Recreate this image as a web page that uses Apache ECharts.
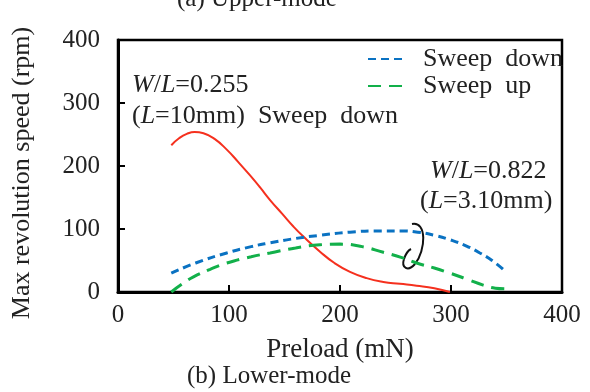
<!DOCTYPE html>
<html>
<head>
<meta charset="utf-8">
<script src="https://cdn.jsdelivr.net/npm/echarts@6/dist/echarts.min.js"></script>
<style>
  html, body { margin: 0; padding: 0; background: #fff; }
  #chart { width: 590px; height: 392px; }
</style>
</head>
<body>
<div id="chart"></div>
<script>
  // W/L=0.255 (L=10mm), sweep down
  const redX = [48, 55, 62, 69, 77, 87, 98, 108, 119, 128, 137, 148, 158, 167, 182, 195, 209, 224, 239, 254, 269, 285, 299]
  const redY = [233, 244, 251, 254, 252, 243, 226, 207, 185, 166, 146, 124, 104, 88, 64, 46, 32, 22, 16, 13, 10, 6, 0]
  // W/L=0.822 (L=3.10mm), sweep down
  const blueX = [48, 70, 98, 120, 137, 160, 182, 209, 235, 255, 270, 285, 299, 314, 326, 337, 347]
  const blueY = [30, 46, 62, 72, 78, 85, 90, 95, 97, 97, 95, 90, 83, 73, 62, 50, 36]
  // W/L=0.822 (L=3.10mm), sweep up
  const greenX = [48, 58, 68, 83, 98, 120, 137, 160, 182, 200, 220, 239, 255, 269, 285, 299, 315, 329, 340, 350]
  const greenY = [0, 13, 24, 36, 46, 56, 62, 70, 75, 76, 72, 63, 55, 46, 38, 30, 20, 11, 6, 5]

  const xTicks = [0, 100, 200, 300, 400]
  const yTicks = [0, 100, 200, 300, 400]

  const FONT = 'Liberation Serif, Times New Roman, serif'
  const TXT = '#222'

  function pairs(xs, ys) {
    return xs.map((x, i) => [x, ys[i]])
  }

  const italic = { i: { fontStyle: 'italic', fontFamily: FONT, fontSize: 26, fill: TXT } }

  const chart = echarts.init(document.getElementById('chart'))

  chart.setOption({
    animation: false,
    backgroundColor: '#fff',
    grid: {
      left: 118,
      right: 28,
      top: 40,
      bottom: 100,
      show: true,
      borderColor: '#000',
      borderWidth: 2.5
    },
    legend: {
      data: ['Sweep  down', 'Sweep  up'],
      orient: 'vertical',
      left: 362,
      top: 41,
      itemWidth: 38,
      itemHeight: 10,
      itemGap: 1,
      itemStyle: { color: 'rgba(0,0,0,0)', opacity: 0, borderWidth: 0 },
      textStyle: {
        fontFamily: FONT,
        fontSize: 26,
        color: TXT,
        padding: [0, 0, 0, 12]
      }
    },
    xAxis: {
      type: 'value',
      min: xTicks[0],
      max: xTicks[xTicks.length - 1],
      interval: 100,
      name: 'Preload (mN)',
      nameLocation: 'middle',
      nameGap: 44,
      nameTextStyle: { fontFamily: FONT, fontSize: 27, color: TXT },
      axisLine: { show: true, lineStyle: { color: '#000', width: 3 } },
      axisTick: { show: true, inside: true, length: 7, lineStyle: { color: '#000', width: 2 } },
      axisLabel: { fontFamily: FONT, fontSize: 25, color: TXT, margin: 11 },
      splitLine: { show: false }
    },
    yAxis: {
      type: 'value',
      min: yTicks[0],
      max: yTicks[yTicks.length - 1],
      interval: 100,
      name: 'Max revolution speed (rpm)',
      nameLocation: 'middle',
      nameGap: 83,
      nameTextStyle: { fontFamily: FONT, fontSize: 26, color: TXT, padding: [0, 14, 0, 0] },
      axisLine: { show: true, lineStyle: { color: '#000', width: 3 } },
      axisTick: { show: true, inside: true, length: 7, lineStyle: { color: '#000', width: 2 } },
      axisLabel: { fontFamily: FONT, fontSize: 25, color: TXT, margin: 18 },
      splitLine: { show: false }
    },
    series: [
      {
        name: 'W/L=0.255',
        type: 'line',
        smooth: 0.5,
        symbol: 'none',
        lineStyle: { color: '#f5301e', width: 2 },
        itemStyle: { color: '#f5301e' },
        data: pairs(redX, redY)
      },
      {
        name: 'Sweep  down',
        type: 'line',
        smooth: 0.5,
        symbol: 'none',
        lineStyle: { color: '#0a72c2', width: 3, type: [8, 5] },
        itemStyle: { color: '#0a72c2' },
        data: pairs(blueX, blueY)
      },
      {
        name: 'Sweep  up',
        type: 'line',
        smooth: 0.5,
        symbol: 'none',
        lineStyle: { color: '#12b04a', width: 3, type: [13, 8] },
        itemStyle: { color: '#12b04a' },
        data: pairs(greenX, greenY)
      }
    ],
    graphic: [
      {
        type: 'text',
        x: 132,
        y: 72,
        style: { text: '{i|W}/{i|L}=0.255', font: '26px ' + FONT, fill: TXT, rich: italic }
      },
      {
        type: 'text',
        x: 132,
        y: 103,
        style: { text: '({i|L}=10mm)  Sweep  down', font: '26px ' + FONT, fill: TXT, rich: italic }
      },
      {
        type: 'text',
        x: 430,
        y: 158,
        style: { text: '{i|W}/{i|L}=0.822', font: '26px ' + FONT, fill: TXT, rich: italic }
      },
      {
        type: 'text',
        x: 420,
        y: 188,
        style: { text: '({i|L}=3.10mm)', font: '26px ' + FONT, fill: TXT, rich: italic }
      },
      // loop marking the two W/L=0.822 curves
      {
        type: 'bezierCurve',
        shape: { x1: 412, y1: 224, cpx1: 427, cpy1: 221, cpx2: 426, cpy2: 250, x2: 415, y2: 264 },
        style: { stroke: '#111', lineWidth: 2, fill: null }
      },
      {
        type: 'bezierCurve',
        shape: { x1: 415, y1: 264, cpx1: 408, cpy1: 272, cpx2: 401, cpy2: 268, x2: 404, y2: 259 },
        style: { stroke: '#111', lineWidth: 2, fill: null }
      },
      {
        type: 'bezierCurve',
        shape: { x1: 404, y1: 259, cpx1: 406, cpy1: 253, cpx2: 409, cpy2: 250, x2: 411, y2: 249 },
        style: { stroke: '#111', lineWidth: 2, fill: null }
      },
      {
        type: 'text',
        x: 187,
        y: 364,
        style: { text: '(b) Lower-mode', font: '25px ' + FONT, fill: TXT }
      },
      {
        type: 'text',
        x: 177,
        y: -13,
        style: { text: '(a) Upper-mode', font: '25px ' + FONT, fill: TXT }
      }
    ]
  })
</script>
</body>
</html>
